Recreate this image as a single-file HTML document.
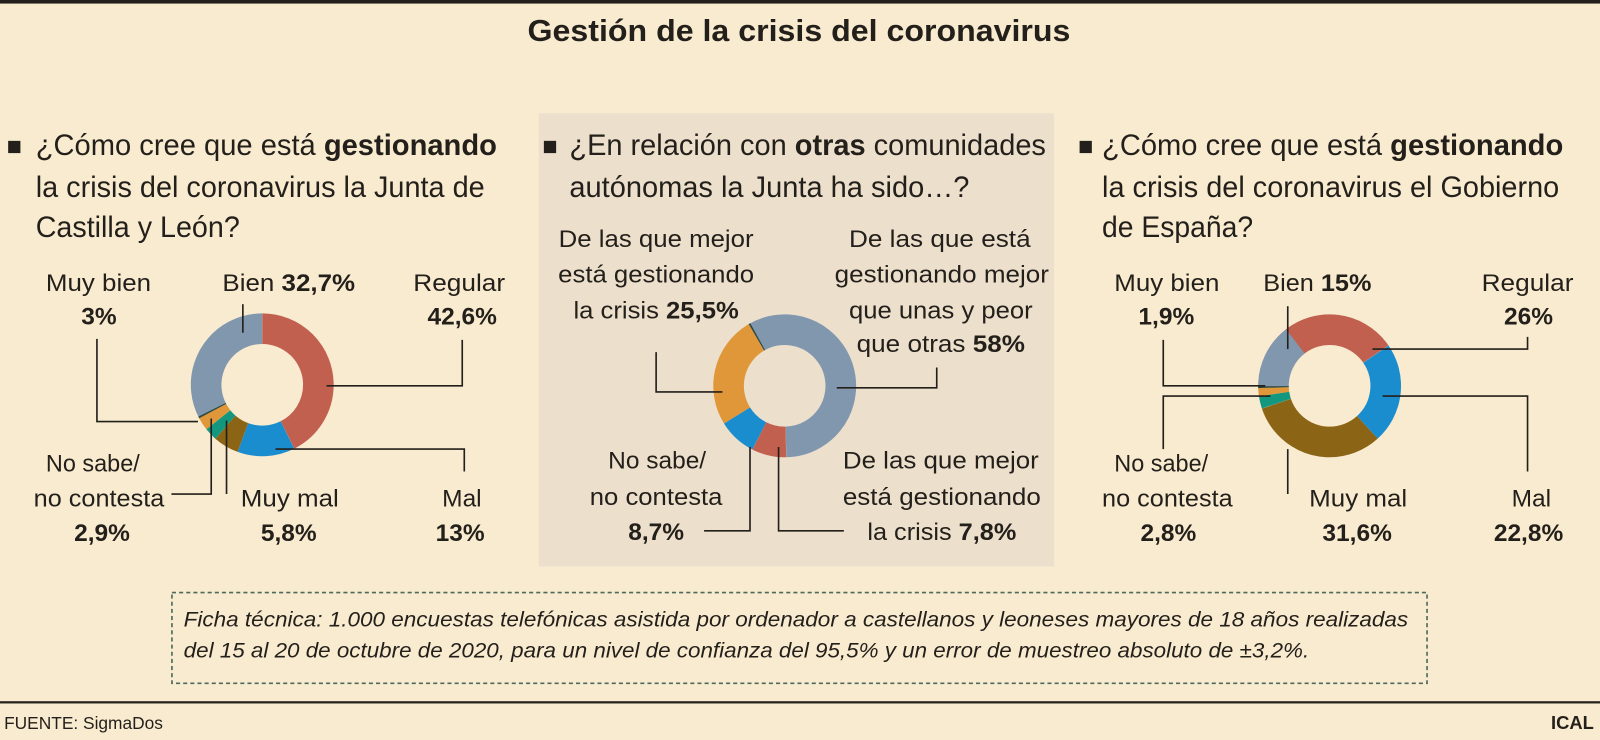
<!DOCTYPE html>
<html><head><meta charset="utf-8"><style>
html,body{margin:0;padding:0;background:#f9ebd0;}
svg{display:block;}
text{font-family:"Liberation Sans",Arial,sans-serif;fill:#231f1a;}
.q{font-size:29px;}
.l{font-size:24px;}
.b{font-weight:bold;}
.ln{stroke:#231f1a;stroke-width:1.6;fill:none;}
</style></head><body>
<svg width="1600" height="740" viewBox="0 0 1568 725" preserveAspectRatio="none" xmlns="http://www.w3.org/2000/svg">
<rect x="0" y="0" width="1568" height="725" fill="#f9ebd0"/>
<rect x="0" y="0" width="1568" height="3.5" fill="#231f1a"/>
<text x="783" y="40" text-anchor="middle" font-size="30" font-weight="bold" textLength="532" lengthAdjust="spacingAndGlyphs">Gestión de la crisis del coronavirus</text>

<rect x="528" y="111" width="505" height="444" fill="#ecdfcc"/>

<rect x="8" y="138" width="12" height="12" fill="#231f1a"/>
<text class="q" x="35" y="152" textLength="452" lengthAdjust="spacingAndGlyphs">¿Cómo cree que está <tspan font-weight="bold">gestionando</tspan></text>
<text class="q" x="35" y="193" textLength="440" lengthAdjust="spacingAndGlyphs">la crisis del coronavirus la Junta de</text>
<text class="q" x="35" y="232" textLength="200" lengthAdjust="spacingAndGlyphs">Castilla y León?</text>

<rect x="533" y="138" width="12" height="12" fill="#231f1a"/>
<text class="q" x="558" y="152" textLength="467" lengthAdjust="spacingAndGlyphs">¿En relación con <tspan font-weight="bold">otras</tspan> comunidades</text>
<text class="q" x="558" y="193" textLength="392" lengthAdjust="spacingAndGlyphs">autónomas la Junta ha sido…?</text>

<rect x="1058" y="138" width="12" height="12" fill="#231f1a"/>
<text class="q" x="1080" y="152" textLength="452" lengthAdjust="spacingAndGlyphs">¿Cómo cree que está <tspan font-weight="bold">gestionando</tspan></text>
<text class="q" x="1080" y="193" textLength="448" lengthAdjust="spacingAndGlyphs">la crisis del coronavirus el Gobierno</text>
<text class="q" x="1080" y="232" textLength="148" lengthAdjust="spacingAndGlyphs">de España?</text>

<g fill="none" stroke-width="30">
<circle cx="257" cy="377" r="55" pathLength="100" stroke="#c2604f" stroke-dasharray="42.6 100" transform="rotate(-90 257 377)"/>
<circle cx="257" cy="377" r="55" pathLength="100" stroke="#1a8dcf" stroke-dasharray="13 100" transform="rotate(63.36 257 377)"/>
<circle cx="257" cy="377" r="55" pathLength="100" stroke="#8b6415" stroke-dasharray="5.8 100" transform="rotate(110.16 257 377)"/>
<circle cx="257" cy="377" r="55" pathLength="100" stroke="#14977f" stroke-dasharray="2.9 100" transform="rotate(131.04 257 377)"/>
<circle cx="257" cy="377" r="55" pathLength="100" stroke="#e0973a" stroke-dasharray="3 100" transform="rotate(141.48 257 377)"/>
<circle cx="257" cy="377" r="55" pathLength="100" stroke="#8097ae" stroke-dasharray="32.7 100" transform="rotate(152.28 257 377)"/>
<circle cx="257" cy="377" r="55" pathLength="100" stroke="#2b4a3f" stroke-dasharray="0.4 100" transform="rotate(152.1 257 377)"/>
</g>
<g fill="none" stroke-width="30">
<circle cx="769" cy="378" r="55" pathLength="100" stroke="#8097ae" stroke-dasharray="58 100" transform="rotate(240 769 378)"/>
<circle cx="769" cy="378" r="55" pathLength="100" stroke="#c2604f" stroke-dasharray="7.8 100" transform="rotate(88.8 769 378)"/>
<circle cx="769" cy="378" r="55" pathLength="100" stroke="#1a8dcf" stroke-dasharray="8.7 100" transform="rotate(116.9 769 378)"/>
<circle cx="769" cy="378" r="55" pathLength="100" stroke="#e0973a" stroke-dasharray="25.5 100" transform="rotate(148.2 769 378)"/>
<circle cx="769" cy="378" r="55" pathLength="100" stroke="#2b4a3f" stroke-dasharray="0.4 100" transform="rotate(239.8 769 378)"/>
</g>
<g fill="none" stroke-width="30">
<circle cx="1303" cy="378" r="55" pathLength="100" stroke="#c2604f" stroke-dasharray="26 100" transform="rotate(232 1303 378)"/>
<circle cx="1303" cy="378" r="55" pathLength="100" stroke="#1a8dcf" stroke-dasharray="22.8 100" transform="rotate(-34.4 1303 378)"/>
<circle cx="1303" cy="378" r="55" pathLength="100" stroke="#8b6415" stroke-dasharray="31.6 100" transform="rotate(47.7 1303 378)"/>
<circle cx="1303" cy="378" r="55" pathLength="100" stroke="#14977f" stroke-dasharray="2.8 100" transform="rotate(161.5 1303 378)"/>
<circle cx="1303" cy="378" r="55" pathLength="100" stroke="#e0973a" stroke-dasharray="1.9 100" transform="rotate(171.6 1303 378)"/>
<circle cx="1303" cy="378" r="55" pathLength="100" stroke="#8097ae" stroke-dasharray="15 100" transform="rotate(178.4 1303 378)"/>
<circle cx="1303" cy="378" r="55" pathLength="100" stroke="#2b4a3f" stroke-dasharray="0.4 100" transform="rotate(178.2 1303 378)"/>
</g>

<path class="ln" d="M95 332 V413 H194"/>
<path class="ln" d="M238 298 V326"/>
<path class="ln" d="M453 333 V378 H320"/>
<path class="ln" d="M168 484 H207 V410"/>
<path class="ln" d="M222 412 V484"/>
<path class="ln" d="M270 440 H455 V462"/>
<path class="ln" d="M643 345 V384 H708"/>
<path class="ln" d="M918 360 V380 H820"/>
<path class="ln" d="M690 520 H735 V438"/>
<path class="ln" d="M763 438 V520 H827"/>
<path class="ln" d="M1140 333 V378 H1240"/>
<path class="ln" d="M1140 440 V388 H1245"/>
<path class="ln" d="M1262 300 V342"/>
<path class="ln" d="M1497 330 V342 H1345"/>
<path class="ln" d="M1355 388 H1497 V462"/>
<path class="ln" d="M1262 440 V484"/>

<text class="l" x="45" y="285" textLength="103" lengthAdjust="spacingAndGlyphs">Muy bien</text>
<text class="l b" x="97" y="318" text-anchor="middle">3%</text>
<text class="l" x="218" y="285" textLength="130" lengthAdjust="spacingAndGlyphs">Bien <tspan font-weight="bold">32,7%</tspan></text>
<text class="l" x="495" y="285" text-anchor="end" textLength="90" lengthAdjust="spacingAndGlyphs">Regular</text>
<text class="l b" x="487" y="318" text-anchor="end">42,6%</text>
<text class="l" x="45" y="462" textLength="92" lengthAdjust="spacingAndGlyphs">No sabe/</text>
<text class="l" x="33" y="496" textLength="128" lengthAdjust="spacingAndGlyphs">no contesta</text>
<text class="l b" x="100" y="530" text-anchor="middle">2,9%</text>
<text class="l" x="236" y="496" textLength="96" lengthAdjust="spacingAndGlyphs">Muy mal</text>
<text class="l b" x="283" y="530" text-anchor="middle">5,8%</text>
<text class="l" x="472" y="496" text-anchor="end">Mal</text>
<text class="l b" x="475" y="530" text-anchor="end">13%</text>

<g text-anchor="middle">
<text class="l" x="643" y="242" textLength="191" lengthAdjust="spacingAndGlyphs">De las que mejor</text>
<text class="l" x="643" y="277" textLength="192" lengthAdjust="spacingAndGlyphs">está gestionando</text>
<text class="l" x="643" y="312" textLength="162" lengthAdjust="spacingAndGlyphs">la crisis <tspan font-weight="bold">25,5%</tspan></text>
<text class="l" x="921" y="242" textLength="178" lengthAdjust="spacingAndGlyphs">De las que está</text>
<text class="l" x="923" y="277" textLength="210" lengthAdjust="spacingAndGlyphs">gestionando mejor</text>
<text class="l" x="922" y="312" textLength="180" lengthAdjust="spacingAndGlyphs">que unas y peor</text>
<text class="l" x="922" y="345" textLength="165" lengthAdjust="spacingAndGlyphs">que otras <tspan font-weight="bold">58%</tspan></text>
<text class="l" x="644" y="459" textLength="96" lengthAdjust="spacingAndGlyphs">No sabe/</text>
<text class="l" x="643" y="495" textLength="130" lengthAdjust="spacingAndGlyphs">no contesta</text>
<text class="l b" x="643" y="529">8,7%</text>
<text class="l" x="922" y="459" textLength="192" lengthAdjust="spacingAndGlyphs">De las que mejor</text>
<text class="l" x="923" y="495" textLength="194" lengthAdjust="spacingAndGlyphs">está gestionando</text>
<text class="l" x="923" y="529" textLength="146" lengthAdjust="spacingAndGlyphs">la crisis <tspan font-weight="bold">7,8%</tspan></text>
</g>

<text class="l" x="1092" y="285" textLength="103" lengthAdjust="spacingAndGlyphs">Muy bien</text>
<text class="l b" x="1143" y="318" text-anchor="middle">1,9%</text>
<text class="l" x="1238" y="285" textLength="106" lengthAdjust="spacingAndGlyphs">Bien <tspan font-weight="bold">15%</tspan></text>
<text class="l" x="1542" y="285" text-anchor="end" textLength="90" lengthAdjust="spacingAndGlyphs">Regular</text>
<text class="l b" x="1522" y="318" text-anchor="end">26%</text>
<text class="l" x="1092" y="462" textLength="92" lengthAdjust="spacingAndGlyphs">No sabe/</text>
<text class="l" x="1080" y="496" textLength="128" lengthAdjust="spacingAndGlyphs">no contesta</text>
<text class="l b" x="1145" y="530" text-anchor="middle">2,8%</text>
<text class="l" x="1283" y="496" textLength="96" lengthAdjust="spacingAndGlyphs">Muy mal</text>
<text class="l b" x="1330" y="530" text-anchor="middle">31,6%</text>
<text class="l" x="1520" y="496" text-anchor="end">Mal</text>
<text class="l b" x="1532" y="530" text-anchor="end">22,8%</text>

<rect x="168.5" y="580.5" width="1230" height="89" fill="none" stroke="#4d6b5a" stroke-width="1.6" stroke-dasharray="4 3"/>
<text x="180" y="614" font-size="21" font-style="italic" textLength="1200" lengthAdjust="spacingAndGlyphs">Ficha técnica: 1.000 encuestas telefónicas asistida por ordenador a castellanos y leoneses mayores de 18 años realizadas</text>
<text x="180" y="644" font-size="21" font-style="italic" textLength="1103" lengthAdjust="spacingAndGlyphs">del 15 al 20 de octubre de 2020, para un nivel de confianza del 95,5% y un error de muestreo absoluto de ±3,2%.</text>

<rect x="0" y="687" width="1568" height="2.2" fill="#231f1a"/>
<text x="4" y="714" font-size="17">FUENTE: SigmaDos</text>
<text x="1562" y="714" font-size="18" font-weight="bold" text-anchor="end">ICAL</text>
</svg>
</body></html>
